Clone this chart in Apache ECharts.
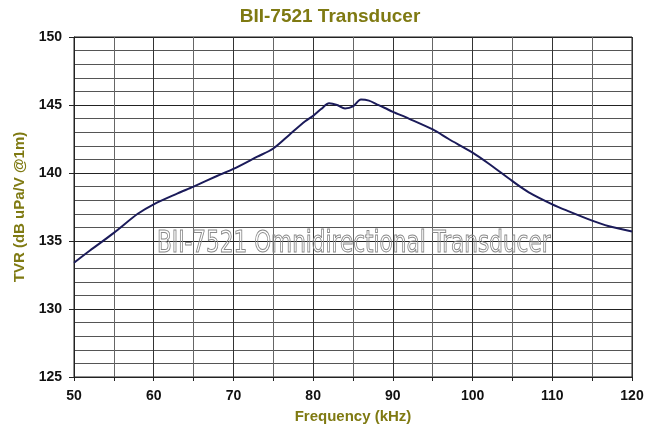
<!DOCTYPE html>
<html>
<head>
<meta charset="utf-8">
<script src="https://cdn.jsdelivr.net/npm/echarts@6/dist/echarts.min.js"></script>
<style>html,body{margin:0;padding:0;background:#fff;}#c{width:660px;height:437px;}</style>
</head>
<body>
<div id="c"></div>
<script>
const freq = [50,52,55,58,60,63,65,68,70,73,75,77,79,80,81,82,83,84,85,86,87,88,89,90,92,95,97,100,102,105,107,110,112,115,117,120];
const tvr  = [133.4,134.3,135.6,137.0,137.7,138.5,139.0,139.8,140.3,141.2,141.8,142.8,143.8,144.2,144.7,145.12,145.0,144.75,144.9,145.4,145.32,145.05,144.78,144.5,144.0,143.2,142.5,141.5,140.7,139.4,138.6,137.7,137.2,136.5,136.1,135.7];
const xTicks = [50,60,70,80,90,100,110,120];
const yTicks = [125,130,135,140,145,150];

const chart = echarts.init(document.getElementById('c'));
const olive = '#7f7a12';
chart.setOption({
  animation: false,
  backgroundColor: '#fff',
  title: {
    text: 'BII-7521 Transducer', left: 'center', top: 2,
    textStyle: {color: olive, fontSize: 19, fontWeight: 'bold', fontFamily: 'Liberation Sans, Arial'}
  },
  grid: {left: 74, right: 28, top: 37, bottom: 60, show: true, borderColor: '#222', borderWidth: 1},
  xAxis: {
    type: 'value', min: 50, max: 120, interval: 5,
    name: 'Frequency (kHz)', nameLocation: 'middle', nameGap: 32,
    nameTextStyle: {color: olive, fontSize: 15, fontWeight: 'bold', fontFamily: 'Liberation Sans, Arial'},
    axisLine: {lineStyle: {color: '#222'}},
    axisTick: {show: true, length: 4, lineStyle: {color: '#222'}},
    axisLabel: {color: '#111', fontSize: 14, fontWeight: 'bold', fontFamily: 'Liberation Sans, Arial', margin: 12,
      formatter: v => xTicks.includes(v) ? String(v) : ''},
    splitLine: {show: true, lineStyle: {color: ['#333','#666'], width: 1}}
  },
  yAxis: {
    type: 'value', min: 125, max: 150, interval: 5,
    name: 'TVR (dB uPa/V @1m)', nameLocation: 'middle', nameGap: 47, nameRotate: 90,
    nameTextStyle: {color: olive, fontSize: 15, fontWeight: 'bold', fontFamily: 'Liberation Sans, Arial'},
    axisLine: {show: true, lineStyle: {color: '#222'}},
    axisTick: {show: true, length: 5, lineStyle: {color: '#222'}},
    axisLabel: {color: '#111', fontSize: 14, fontWeight: 'bold', fontFamily: 'Liberation Sans, Arial', margin: 12,
      formatter: v => yTicks.includes(v) ? String(v) : ''},
    splitLine: {show: true, lineStyle: {color: '#222', width: 1}},
    minorTick: {show: false, splitNumber: 5},
    minorSplitLine: {show: true, lineStyle: {color: '#555', width: 1}}
  },
  graphic: [{
    type: 'text', x: 157, y: 229, scaleX: 0.8, z: 10, silent: true,
    style: {
      text: 'BII-7521 Omnidirectional Transducer',
      fontSize: 30, fontFamily: 'DejaVu Sans Condensed, DejaVu Sans', fontWeight: 'normal',
      fill: 'rgba(255,255,255,0)', stroke: '#8a8a8a', lineWidth: 1
    }
  }],
  series: [{
    type: 'line', data: freq.map((f, i) => [f, tvr[i]]),
    showSymbol: false, smooth: 0.3,
    lineStyle: {color: '#1b1b5a', width: 2}
  }]
});
</script>
</body>
</html>
